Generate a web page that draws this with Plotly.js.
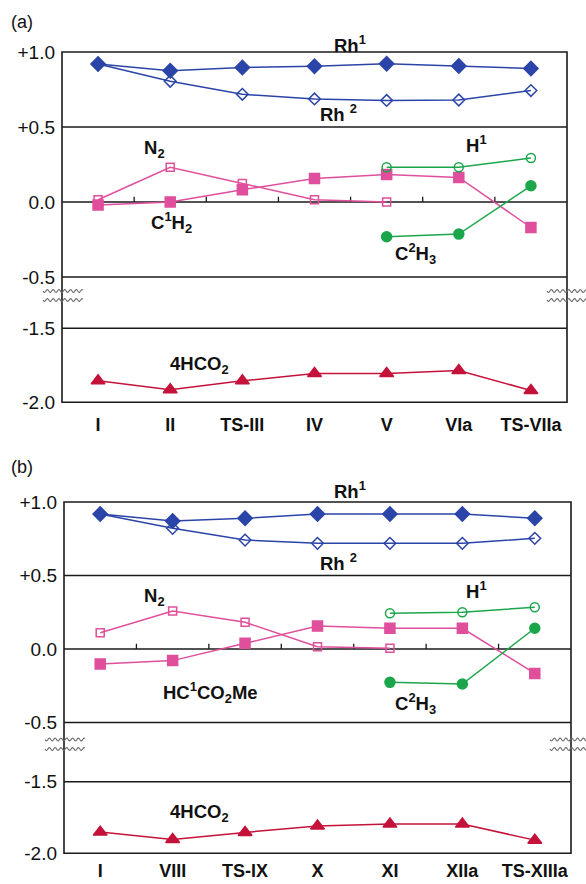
<!DOCTYPE html>
<html>
<head>
<meta charset="utf-8">
<script src="https://cdn.plot.ly/plotly-3.0.1.min.js"></script>
<style>html,body{margin:0;padding:0;background:#fff;}#chart{width:586px;height:884px;}</style>
</head>
<body>
<div id="chart"></div>
<script>
// ---------- data (panel a) ----------
var catsA  = ['I','II','TS-III','IV','V','VIa','TS-VIIa'];
var rh1A   = [0.920, 0.875, 0.897, 0.905, 0.922, 0.907, 0.890];
var rh2A   = [0.920, 0.805, 0.718, 0.687, 0.677, 0.680, 0.743];
var n2A    = [0.015, 0.232, 0.124, 0.015, 0.000, null, null];
var c1h2A  = [-0.020, 0.000, 0.082, 0.157, 0.184, 0.164, -0.170];
var h1A    = [null, null, null, null, 0.232, 0.232, 0.293];
var c2h3A  = [null, null, null, null, -0.232, -0.214, 0.108];
var hco2A  = [-1.855, -1.915, -1.855, -1.805, -1.805, -1.785, -1.920];

// ---------- data (panel b) ----------
var catsB  = ['I','VIII','TS-IX','X','XI','XIIa','TS-XIIIa'];
var rh1B   = [0.918, 0.871, 0.889, 0.918, 0.918, 0.918, 0.889];
var rh2B   = [0.918, 0.821, 0.741, 0.719, 0.719, 0.719, 0.753];
var n2B    = [0.111, 0.259, 0.182, 0.016, 0.005, null, null];
var hcB    = [-0.102, -0.079, 0.039, 0.156, 0.141, 0.141, -0.166];
var h1B    = [null, null, null, null, 0.243, 0.250, 0.284];
var c2h3B  = [null, null, null, null, -0.227, -0.238, 0.141];
var hco2B  = [-1.852, -1.904, -1.854, -1.810, -1.796, -1.796, -1.908];

var yTopVals = [1.0, 0.5, 0.0, -0.5];
var yTopText = ['+1.0', '+0.5', '0.0', '-0.5'];
var yBotVals = [-1.5, -2.0];
var yBotText = ['-1.5', '-2.0'];

// ---------- styling ----------
var BLUE = '#2b44a8', PINK = '#e04f9c', GREEN = '#1ca64c', RED = '#c4123a';
var FONT = 'Liberation Sans, Arial, sans-serif';
var W = 586, H = 884;
function px(x){ return x / W; }
function py(y){ return 1 - y / H; }

function tr(x, y, xa, ya, color, sym, size){
  return {x: x, y: y, xaxis: xa, yaxis: ya, type: 'scatter', mode: 'lines+markers',
    connectgaps: false, hoverinfo: 'skip', showlegend: false, cliponaxis: false,
    line: {color: color, width: 1.5},
    marker: {color: color, symbol: sym, size: size, line: {color: color, width: 1.5}}};
}

var data = [
  tr(catsA, rh2A, 'x', 'y', BLUE, 'diamond-open', 9),
  tr(catsA, rh1A, 'x', 'y', BLUE, 'diamond', 11),
  tr(catsA, n2A, 'x', 'y', PINK, 'square-open', 8),
  tr(catsA, c1h2A, 'x', 'y', PINK, 'square', 10),
  tr(catsA, h1A, 'x', 'y', GREEN, 'circle-open', 9),
  tr(catsA, c2h3A, 'x', 'y', GREEN, 'circle', 10),
  tr(catsA, hco2A, 'x', 'y2', RED, 'triangle-up', 12),

  tr(catsB, rh2B, 'x2', 'y3', BLUE, 'diamond-open', 9),
  tr(catsB, rh1B, 'x2', 'y3', BLUE, 'diamond', 11),
  tr(catsB, n2B, 'x2', 'y3', PINK, 'square-open', 8),
  tr(catsB, hcB, 'x2', 'y3', PINK, 'square', 10),
  tr(catsB, h1B, 'x2', 'y3', GREEN, 'circle-open', 9),
  tr(catsB, c2h3B, 'x2', 'y3', GREEN, 'circle', 10),
  tr(catsB, hco2B, 'x2', 'y4', RED, 'triangle-up', 12)
];

// domains (pixel based)
var xdomA = [px(62), px(567)];
var xdomB = [px(64), px(571)];
var yTopA = [py(277), py(52)];
var yBotA = [py(402.3), py(328.3)];
var yTopB = [py(722.5), py(502)];
var yBotB = [py(853.3), py(781.7)];

function xax(dom, anchor, cats, standoff){
  return {domain: dom, anchor: anchor, type: 'category', range: [-0.5, cats.length - 0.5],
    showgrid: false, zeroline: false, showline: false, ticks: '', automargin: false,
    tickfont: {family: FONT, size: 18, color: '#111', weight: 'bold'}, ticklabelstandoff: standoff, fixedrange: true};
}
function yax(dom, anchor, range, vals, text){
  return {domain: dom, anchor: anchor, range: range, tickmode: 'array', tickvals: vals, ticktext: text,
    showgrid: false, zeroline: false, showline: false, ticks: '', automargin: false,
    tickfont: {family: FONT, size: 19, color: '#111'}, ticklabelstandoff: 6, fixedrange: true};
}

var shapes = [];
var LINE = {color: '#1a1a1a', width: 1.6};
function frame(xd, yb, yt){
  shapes.push({type: 'rect', xref: 'paper', yref: 'paper', x0: xd[0], x1: xd[1], y0: yb[0], y1: yt[1], line: LINE, layer: 'below'});
}
function hline(xa, ya, v){
  shapes.push({type: 'line', xref: xa + ' domain', yref: ya, x0: 0, x1: 1, y0: v, y1: v, line: LINE, layer: 'below'});
}
function hlinePaper(xd, yp){
  shapes.push({type: 'line', xref: 'paper', yref: 'paper', x0: xd[0], x1: xd[1], y0: yp, y1: yp, line: LINE, layer: 'below'});
}
function ticks(xa, ya, n){
  for (var i = 0; i < n - 1; i++) {
    shapes.push({type: 'line', xref: xa, yref: ya, x0: i + 0.5, x1: i + 0.5, y0: 0, y1: 0.035, line: {color: '#1a1a1a', width: 1.3}, layer: 'below'});
  }
}
function wave(x0, x1, y){
  var d = '', n = 80;
  for (var i = 0; i <= n; i++) {
    var xx = x0 + (x1 - x0) * i / n;
    var yy = y + 1.4 * Math.sin((xx - x0) / 5.8 * 2 * Math.PI);
    d += (i === 0 ? 'M' : 'L') + px(xx).toFixed(5) + ',' + py(yy).toFixed(5);
  }
  shapes.push({type: 'path', xref: 'paper', yref: 'paper', path: d, line: {color: '#6a6a6a', width: 1.1}});
}

frame(xdomA, yBotA, yTopA);
[0.5, 0.0].forEach(function(v){ hline('x', 'y', v); });
hlinePaper(xdomA, yTopA[0]);   // bottom edge of upper section (-0.5)
hlinePaper(xdomA, yBotA[1]);   // top edge of lower section (-1.5)
ticks('x', 'y', catsA.length);
wave(43, 83, 291); wave(43, 83, 300);
wave(547, 586, 291); wave(547, 586, 300);

frame(xdomB, yBotB, yTopB);
[0.5, 0.0].forEach(function(v){ hline('x2', 'y3', v); });
hlinePaper(xdomB, yTopB[0]);
hlinePaper(xdomB, yBotB[1]);
ticks('x2', 'y3', catsB.length);
wave(45, 85, 739.5); wave(45, 85, 749);
wave(550, 586, 739.5); wave(550, 586, 749);

function ann(text, x, y, opts){
  var a = {text: text, xref: 'paper', yref: 'paper', x: px(x), y: py(y), xanchor: 'center', yanchor: 'middle',
    showarrow: false, font: {family: FONT, size: 18.5, color: '#111', weight: 'bold'}};
  if (opts) for (var k in opts) a[k] = opts[k];
  return a;
}
var plainFont = {family: FONT, size: 18, color: '#111'};
var annotations = [
  ann('(a)', 9, 22, {xanchor: 'left', font: plainFont}),
  ann('Rh<sup>1</sup>', 350, 44),
  ann('Rh <sup>2</sup>', 338, 113),
  ann('N<sub>2</sub>', 154, 149),
  ann('H<sup>1</sup>', 476, 144),
  ann('C<sup>1</sup>H<sub>2</sub>', 171, 222),
  ann('C<sup>2</sup>H<sub>3</sub>', 415, 254),
  ann('4HCO<sub>2</sub>', 199, 365),

  ann('(b)', 9, 467, {xanchor: 'left', font: plainFont}),
  ann('Rh<sup>1</sup>', 350, 490),
  ann('Rh <sup>2</sup>', 338, 562),
  ann('N<sub>2</sub>', 154, 597),
  ann('H<sup>1</sup>', 476, 590),
  ann('HC<sup>1</sup>CO<sub>2</sub>Me', 210, 692),
  ann('C<sup>2</sup>H<sub>3</sub>', 415, 703),
  ann('4HCO<sub>2</sub>', 199, 813)
];

var layout = {
  width: W, height: H,
  margin: {l: 0, r: 0, t: 0, b: 0, pad: 0},
  paper_bgcolor: '#fff', plot_bgcolor: 'rgba(0,0,0,0)',
  showlegend: false,
  font: {family: FONT, color: '#111'},
  xaxis: xax(xdomA, 'y2', catsA, 10),
  xaxis2: xax(xdomB, 'y4', catsB, 5),
  yaxis: yax(yTopA, 'x', [-0.5, 1.0], yTopVals, yTopText),
  yaxis2: yax(yBotA, 'x', [-2.0, -1.5], yBotVals, yBotText),
  yaxis3: yax(yTopB, 'x2', [-0.5, 1.0], yTopVals, yTopText),
  yaxis4: yax(yBotB, 'x2', [-2.0, -1.5], yBotVals, yBotText),
  shapes: shapes,
  annotations: annotations
};

Plotly.newPlot('chart', data, layout, {staticPlot: true, displayModeBar: false});
</script>
</body>
</html>
